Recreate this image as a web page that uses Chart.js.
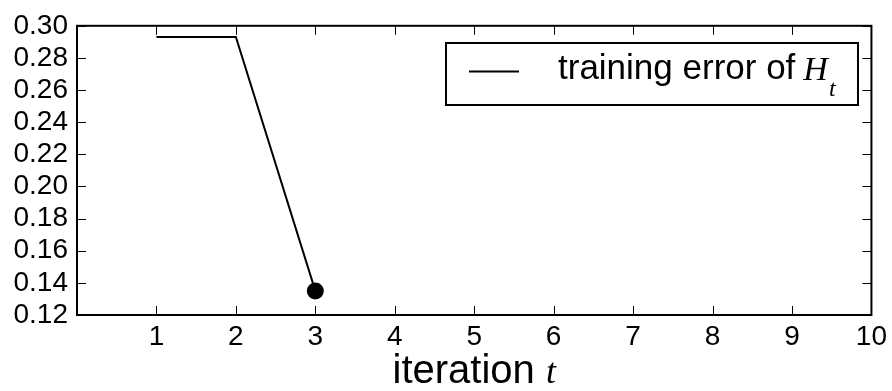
<!DOCTYPE html>
<html>
<head>
<meta charset="utf-8">
<script src="https://cdn.jsdelivr.net/npm/chart.js@4"></script>
<style>
  html, body { margin: 0; padding: 0; background: #fff; }
  canvas { display: block; }
</style>
</head>
<body>
<canvas id="chart" width="892" height="391"></canvas>
<script>
// ============================================
// training error of H_t vs iteration t
// ============================================

const iterations = [1, 2, 3];
const trainingError = [0.293, 0.293, 0.135];
const xTicks = [1, 2, 3, 4, 5, 6, 7, 8, 9, 10];
const yTicks = [0.12, 0.14, 0.16, 0.18, 0.20, 0.22, 0.24, 0.26, 0.28, 0.30];

const SANS = "'Liberation Sans', Arial, sans-serif";
const SERIF = "'Liberation Serif', 'Times New Roman', serif";

// frame + inward ticks on all four sides (matplotlib classic look)
const frameAndTicks = {
    id: 'frameAndTicks',
    afterDatasetsDraw(chart) {
        const { ctx, chartArea: a, scales } = chart;
        const tl = 9;
        ctx.save();
        ctx.strokeStyle = '#000';
        ctx.lineWidth = 1;
        ctx.beginPath();
        xTicks.forEach(v => {
            const px = Math.round(scales.x.getPixelForValue(v)) + 0.5;
            ctx.moveTo(px, a.bottom); ctx.lineTo(px, a.bottom - tl);
            ctx.moveTo(px, a.top); ctx.lineTo(px, a.top + tl);
        });
        yTicks.forEach(v => {
            const py = Math.round(scales.y.getPixelForValue(v)) + 0.5;
            ctx.moveTo(a.left, py); ctx.lineTo(a.left + tl, py);
            ctx.moveTo(a.right, py); ctx.lineTo(a.right - tl, py);
        });
        ctx.stroke();
        ctx.lineWidth = 2;
        ctx.strokeRect(a.left, a.top, a.right - a.left, a.bottom - a.top);
        ctx.restore();
    }
};

// legend box + x title with math italic parts
const annotations = {
    id: 'annotations',
    afterDraw(chart) {
        const { ctx, chartArea: a } = chart;
        ctx.save();
        ctx.strokeStyle = '#000';

        // legend
        ctx.fillStyle = '#fff';
        ctx.fillRect(446, 43, 412, 62);
        ctx.lineWidth = 2;
        ctx.strokeRect(446, 43, 412, 62);
        ctx.beginPath();
        ctx.moveTo(469, 71.5);
        ctx.lineTo(519, 71.5);
        ctx.stroke();
        ctx.fillStyle = '#000';
        ctx.textBaseline = 'alphabetic';
        ctx.textAlign = 'left';
        ctx.font = `35px ${SANS}`;
        const label = 'training error of';
        ctx.fillText(label, 558, 79);
        const hx = 558 + ctx.measureText(label).width + 8;
        ctx.font = `italic 34px ${SERIF}`;
        ctx.fillText('H', hx, 80);
        const hw = ctx.measureText('H').width;
        ctx.font = `italic 24px ${SERIF}`;
        ctx.fillText('t', hx + hw + 1, 96);

        // x title
        ctx.font = `40px ${SANS}`;
        const w1 = ctx.measureText('iteration ').width;
        ctx.font = `italic 36px ${SERIF}`;
        const w2 = ctx.measureText('t').width;
        const cx = (a.left + a.right) / 2;
        const x0 = cx - (w1 + w2) / 2;
        ctx.font = `40px ${SANS}`;
        ctx.fillText('iteration ', x0, 383);
        ctx.font = `italic 36px ${SERIF}`;
        ctx.fillText('t', x0 + w1, 383);
        ctx.restore();
    }
};

const ctx = document.getElementById('chart').getContext('2d');
new Chart(ctx, {
    type: 'line',
    data: {
        datasets: [{
            label: 'training error of H_t',
            data: iterations.map((x, i) => ({ x, y: trainingError[i] })),
            borderColor: '#000',
            backgroundColor: '#000',
            borderWidth: 2,
            tension: 0,
            pointRadius: iterations.map((x, i) => i === iterations.length - 1 ? 8.5 : 0),
            pointBackgroundColor: '#000',
            pointBorderWidth: 0
        }]
    },
    options: {
        responsive: false,
        animation: false,
        layout: { padding: { top: 24, right: 17, left: 0, bottom: 0 } },
        plugins: {
            legend: { display: false },
            tooltip: { enabled: false }
        },
        scales: {
            x: {
                type: 'linear',
                min: 0,
                max: 10,
                grid: { display: false, drawTicks: false },
                border: { display: false },
                afterFit: s => { s.height = 76; },
                afterBuildTicks: s => { s.ticks = xTicks.map(v => ({ value: v })); },
                ticks: {
                    color: '#000',
                    padding: 5,
                    autoSkip: false,
                    font: { family: SANS, size: 28 },
                    maxRotation: 0,
                    callback: v => String(v)
                }
            },
            y: {
                min: 0.12,
                max: 0.30,
                grid: { display: false, drawTicks: false },
                border: { display: false },
                afterFit: s => { s.width = 77; },
                afterBuildTicks: s => { s.ticks = yTicks.map(v => ({ value: v })); },
                ticks: {
                    color: '#000',
                    padding: 9,
                    autoSkip: false,
                    font: { family: SANS, size: 28 },
                    callback: v => v.toFixed(2)
                }
            }
        }
    },
    plugins: [frameAndTicks, annotations]
});
</script>
</body>
</html>
